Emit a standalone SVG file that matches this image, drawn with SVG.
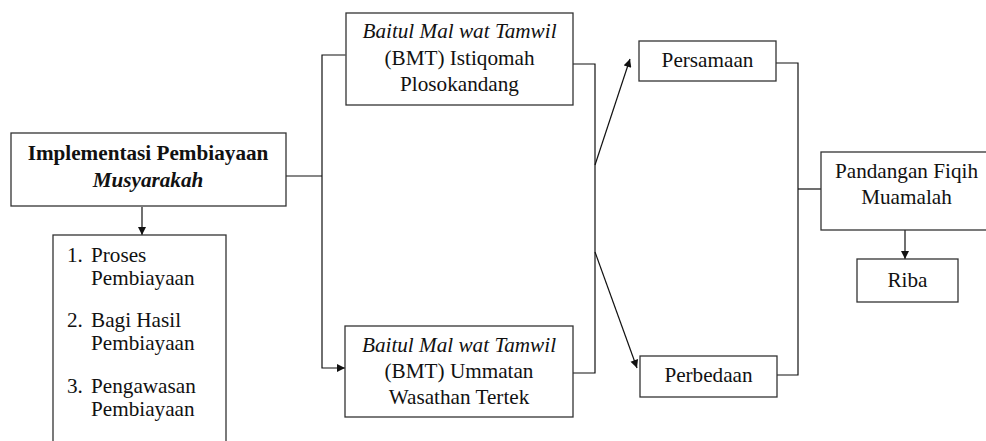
<svg xmlns="http://www.w3.org/2000/svg" width="986" height="441" viewBox="0 0 986 441">
<style>
.box{fill:#fff;stroke:#333;stroke-width:1.3}
.t{font-family:'Liberation Serif','Times New Roman',serif;font-size:21.2px;fill:#111}
.c{text-anchor:middle}
.b{font-weight:bold}
.i{font-style:italic}
.ln{fill:none;stroke:#111;stroke-width:1.2}
</style>
<defs>
<marker id="ah" viewBox="0 0 10 10" refX="10" refY="5" markerWidth="9" markerHeight="8" markerUnits="userSpaceOnUse" orient="auto">
<path d="M0,0 L10,5 L0,10 z" fill="#111"/>
</marker>
</defs>
<rect width="986" height="441" fill="#fff"/>
<g id="connectors">
<polyline class="ln" points="286,176 322,176"/>
<polyline class="ln" points="345,55 322,55 322,368 345,368" marker-start="url(#ah)" marker-end="url(#ah)"/>
<line class="ln" x1="142" y1="207" x2="142" y2="235" marker-end="url(#ah)"/>
<polyline class="ln" points="573,64 595,64 595,373 573,373"/>
<line class="ln" x1="595" y1="165" x2="630" y2="59" marker-end="url(#ah)"/>
<line class="ln" x1="595" y1="252" x2="637" y2="368" marker-end="url(#ah)"/>
<polyline class="ln" points="776,63 798,63 798,375 777,375"/>
<line class="ln" x1="798" y1="189" x2="821" y2="189"/>
<line class="ln" x1="905" y1="230" x2="905" y2="259" marker-end="url(#ah)"/>
</g>
<g id="main" class="t">
<rect class="box" x="11" y="133" width="275" height="73"/>
<text class="c b" x="148" y="160">Implementasi Pembiayaan</text>
<text class="c b i" x="148" y="187">Musyarakah</text>
</g>
<g id="list" class="t">
<rect class="box" x="53" y="235" width="173" height="220"/>
<text x="67" y="262">1.</text><text x="91" y="262">Proses</text>
<text x="91" y="285">Pembiayaan</text>
<text x="67" y="327">2.</text><text x="91" y="327">Bagi Hasil</text>
<text x="91" y="350">Pembiayaan</text>
<text x="67" y="393">3.</text><text x="91" y="393">Pengawasan</text>
<text x="91" y="416">Pembiayaan</text>
</g>
<g id="bmt1" class="t">
<rect class="box" x="346" y="13" width="227" height="92"/>
<text class="c i" x="459.5" y="38">Baitul Mal wat Tamwil</text>
<text class="c" x="459.5" y="65">(BMT) Istiqomah</text>
<text class="c" x="459.5" y="91">Plosokandang</text>
</g>
<g id="bmt2" class="t">
<rect class="box" x="345" y="326" width="228" height="91"/>
<text class="c i" x="459" y="352">Baitul Mal wat Tamwil</text>
<text class="c" x="459" y="378">(BMT) Ummatan</text>
<text class="c" x="459" y="404">Wasathan Tertek</text>
</g>
<g id="persamaan" class="t">
<rect class="box" x="639" y="41" width="137" height="40"/>
<text class="c" x="707.5" y="67">Persamaan</text>
</g>
<g id="perbedaan" class="t">
<rect class="box" x="640" y="356" width="137" height="41"/>
<text class="c" x="708.5" y="382">Perbedaan</text>
</g>
<g id="pandangan" class="t">
<rect class="box" x="821" y="152" width="172" height="78"/>
<text class="c" x="906.5" y="178">Pandangan Fiqih</text>
<text class="c" x="906.5" y="204">Muamalah</text>
</g>
<g id="riba" class="t">
<rect class="box" x="857" y="259" width="101" height="43"/>
<text class="c" x="907.5" y="287">Riba</text>
</g>
</svg>
